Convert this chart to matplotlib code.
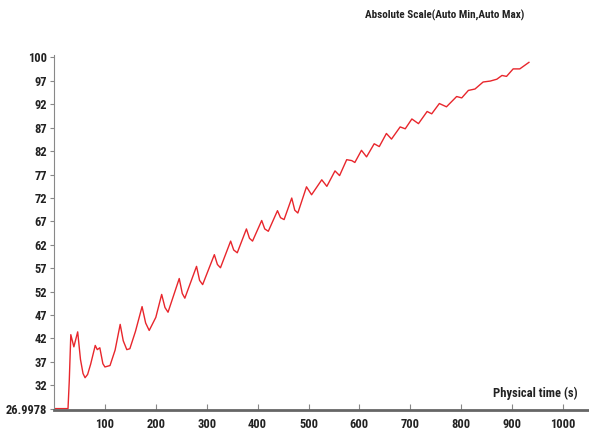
import matplotlib
matplotlib.use("Agg")
import matplotlib.pyplot as plt
from matplotlib import font_manager

# temperature trace (time in s, value)
t = [0, 27.5, 30, 33, 39, 46.5, 52, 57, 61, 66, 72, 81, 85, 90, 96, 100, 110,
     120, 130, 136, 143, 149, 160, 173, 180, 187, 200, 211.5, 218, 224, 246,
     252, 257, 280, 286, 292, 315, 321, 327, 347, 353, 360, 378, 384, 390,
     408, 414, 421, 439, 445, 452, 467, 473, 479, 496, 506, 526, 536, 552, 561,
     575, 585, 591, 604, 614, 629, 639, 653, 663, 680, 690, 703, 716, 733, 742,
     757, 771, 791, 801, 814, 827, 843, 857, 870, 880, 889, 902, 915, 933]
temp = [26.9978, 26.9978, 33.0, 42.8, 40.2, 43.4, 37.5, 34.5, 33.6, 34.3, 36.5,
        40.5, 39.6, 40.0, 36.6, 35.9, 36.2, 39.5, 45.0, 41.5, 39.6, 39.8, 43.5,
        48.8, 45.3, 43.7, 46.5, 51.4, 48.6, 47.6, 54.8, 51.6, 50.6, 57.4, 54.4,
        53.5, 59.9, 57.8, 57.1, 62.8, 60.9, 60.3, 65.4, 63.4, 62.8, 67.2, 65.4,
        64.9, 69.3, 67.8, 67.4, 72.0, 69.4, 68.8, 74.4, 72.7, 75.9, 74.5, 77.8,
        76.8, 80.2, 80.0, 79.6, 82.2, 80.8, 83.6, 83.0, 85.8, 84.6, 87.2, 86.8,
        88.9, 87.9, 90.5, 90.0, 92.2, 91.5, 93.7, 93.4, 95.0, 95.3, 96.8, 97.0,
        97.4, 98.2, 98.0, 99.6, 99.6, 101.0]

y_ticks = [26.9978, 32, 37, 42, 47, 52, 57, 62, 67, 72, 77, 82, 87, 92, 97, 102.1]
y_labels = ["26.9978", "32", "37", "42", "47", "52", "57", "62", "67", "72",
            "77", "82", "87", "92", "97", "100"]
x_ticks = [100, 200, 300, 400, 500, 600, 700, 800, 900, 1000]

# narrow font if one is around, otherwise squeeze DejaVu a bit
names = {f.name for f in font_manager.fontManager.ttflist}
narrow = [n for n in ("Liberation Sans Narrow", "Arial Narrow", "DejaVu Sans Condensed",
                      "Roboto Condensed", "Open Sans Condensed") if n in names]
if narrow:
    fam, fs, fw = narrow[0], 9, "bold"
else:
    fam, fs, fw = "DejaVu Sans", 8, "bold"
plt.rcParams["font.family"] = [fam, "DejaVu Sans"]

fig = plt.figure(figsize=(5.89, 4.32), dpi=100)
ax = fig.add_axes([0.0917, 0.052, 0.9083, 0.821])

ax.plot(t, temp, color="#e8262c", lw=1.0)

ax.set_xlim(0, 1051)
ax.set_ylim(26.8, 102.6)
ax.set_xticks(x_ticks)
ax.set_yticks(y_ticks)
ax.set_yticklabels(y_labels)

for s in ["top", "right"]:
    ax.spines[s].set_visible(False)
ax.spines["bottom"].set_color("#666666")
ax.spines["bottom"].set_linewidth(2)
ax.spines["left"].set_color("#888888")
ax.spines["left"].set_linewidth(0.8)

ax.tick_params(axis="x", direction="in", length=4, width=0.8, color="#888888",
               labelsize=fs, labelcolor="#222222", pad=6)
ax.tick_params(axis="y", direction="out", length=3, width=0.8, color="#888888",
               labelsize=fs, labelcolor="#222222", pad=2)
for lab in ax.get_xticklabels() + ax.get_yticklabels():
    lab.set_fontweight(fw)
    lab.set_fontstretch("condensed")

fig.text(0.98, 0.09, "Physical time (s)", ha="right", va="center",
         fontsize=fs, fontweight=fw, fontstretch="condensed", color="#222222")
fig.text(0.891, 0.965, "Absolute Scale(Auto Min,Auto Max)", ha="right",
         va="center", fontsize=fs - 1, fontweight=fw, fontstretch="condensed",
         color="#222222")

fig.savefig("out.png", dpi=100)
